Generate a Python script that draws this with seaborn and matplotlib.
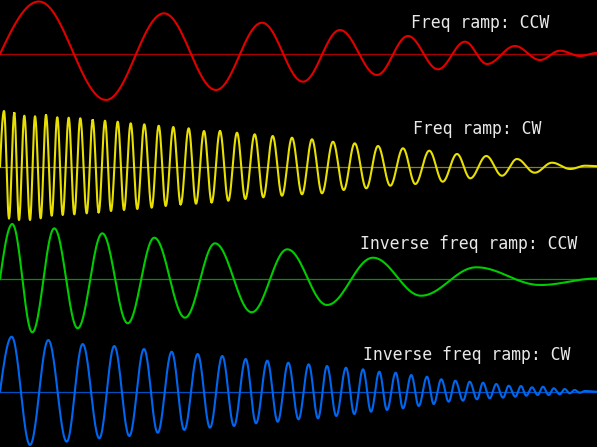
import matplotlib
matplotlib.use("Agg")
import matplotlib.pyplot as plt
import seaborn as sns
import numpy as np
import pandas as pd

# ==== data (pixel units, amplitude = up from baseline) ====
red_x = [0, 39, 106, 164, 216, 262, 303, 340, 377, 408, 438, 465, 487, 515, 540, 560, 580, 597]
red_a = [0, 52.5, -46, 40.7, -36, 31.3, -27.7, 24, -21, 18, -15.3, 12.3, -10, 8, -6, 3.3, -2, 1]

yellow_x = [0, 4, 9, 14.3, 19, 24.3, 30, 35, 40.7, 46, 51.7, 57.3, 62.7, 68.7, 74.3, 80.3,
            86.7, 92.7, 98.7, 105, 111, 117.7, 124, 130.7, 137.3, 144.3, 151.7, 158.7,
            165.7, 173.3, 180.7, 188.7, 196, 204, 211.7, 220, 228.3, 237, 245.3, 254.7,
            263.3, 272.7, 282, 292, 302, 312, 322, 333, 343.7, 354.7, 366.3, 378, 390.3,
            403, 415.3, 429.3, 442.7, 457, 470.3, 486.3, 502, 517, 534.7, 552, 570.3,
            585.3, 597]
yellow_a = [0, 55.7, -51.6, 53.7, -53.3, 51, -53.3, 50.4, -51.6, 51.7, -49, 49.4, -48.3,
            49, -47.6, 48.4, -46.6, 46.7, -45.6, 46, -44.3, 45, -43.3, 43.4, -42.3, 42.4,
            -41, 41, -39.3, 39.7, -37.6, 38.4, -37, 35.7, -35.6, 35.7, -34, 34, -32.3,
            32.4, -30.6, 30.7, -29, 29, -27.6, 27.4, -26.6, 25, -23.3, 23.4, -21.6, 20.7,
            -19, 18.4, -17.3, 16, -15, 12.7, -11.6, 10.7, -9, 7.7, -6, 4, -2.3, 1, 0.5]

green_x = [0, 12.3, 32.3, 54.3, 77.7, 102.3, 127.7, 154.3, 185, 215, 251.7, 287.3, 327,
           373, 421, 476.3, 540.3, 597]
green_a = [0, 55, -53.3, 50.7, -49.3, 45.7, -44.3, 41.3, -38.7, 35.7, -33.3, 29.7, -26,
           21.3, -16.7, 11.7, -6, 0.5]

blue_x = [0, 11.7, 30, 48.3, 66.7, 82.7, 99.3, 114.3, 129.3, 144, 157.7, 171.7, 184.3,
          197.7, 210, 222.3, 234, 245.7, 256, 267.3, 277.7, 288.3, 298.5, 308.7, 318, 327,
          336.3, 346, 354.3, 363, 371, 379.3, 387, 395.7, 403, 411.3, 418.7, 427, 433.7,
          441.3, 448.7, 455.3, 463, 469.7, 477, 483, 489.7, 496.3, 503, 508.7, 515.3, 521,
          526.3, 532, 537.7, 543, 548.7, 553.7, 559.7, 564.7, 569.7, 574.7, 579.7, 585, 597]
blue_a = [0, 55, -53.3, 51.7, -50, 47.7, -46.6, 45.7, -44.3, 42.7, -41, 40, -38.3, 37.7,
          -36, 35.7, -34.3, 32.7, -31.6, 31, -30, 29, -27.6, 27.4, -26.6, 25.7, -24.3, 24,
          -22.3, 22.4, -20, 20, -18.3, 19, -16.6, 16.7, -14.3, 15, -12.3, 12.4, -10, 11,
          -9, 10, -7.6, 9, -6.6, 7.7, -6, 6, -5, 5.7, -4, 4.4, -3.3, 5, -3.3, 3.4, -2.6,
          2.7, -1.6, 1.7, -1, 0.7, 0]

baselines = [54, 166.7, 279, 391.7]
labels = ["Freq ramp: CCW", "Freq ramp: CW", "Inverse freq ramp: CCW", "Inverse freq ramp: CW"]
label_x = [411, 413, 360, 363]
label_y = [28.3, 134.3, 249.3, 360]
colors = ["#e00000", "#e8e000", "#00cc00", "#0066ee"]
base_colors = ["#a80000", "#8c8400", "#009400", "#0050c0"]


def trace(xs, amps, base):
    # half-cosine segments between the extrema
    px, py = [], []
    for i in range(len(xs) - 1):
        t = np.linspace(0, 1, 25)
        if i == 0:
            s = np.sin(np.pi / 2 * t)
        else:
            s = (1 - np.cos(np.pi * t)) / 2
        px.extend(xs[i] + (xs[i + 1] - xs[i]) * t)
        py.extend(amps[i] + (amps[i + 1] - amps[i]) * s)
    return pd.DataFrame({"x": px, "y": base - np.array(py)})


sns.set_style("dark")
fig = plt.figure(figsize=(5.97, 4.47), dpi=100, facecolor="black")
ax = fig.add_axes([0, 0, 1, 1])
ax.set_facecolor("black")

series = [(red_x, red_a), (yellow_x, yellow_a), (green_x, green_a), (blue_x, blue_a)]
for (xs, amps), base, c, bc in zip(series, baselines, colors, base_colors):
    ax.axhline(base, color=bc, lw=0.9, zorder=1)
    df = trace(xs, amps, base)
    sns.lineplot(data=df, x="x", y="y", sort=False, estimator=None, color=c, lw=1.5, ax=ax, zorder=2)

for txt, tx, ty in zip(labels, label_x, label_y):
    ax.text(tx, ty, txt, color="#e8e8e8", fontsize=11.9, family="DejaVu Sans Mono",
            ha="left", va="baseline", zorder=3)

ax.set_xlim(0, 597)
ax.set_ylim(447, 0)
ax.axis("off")

fig.savefig("out.png", dpi=100, facecolor="black")
